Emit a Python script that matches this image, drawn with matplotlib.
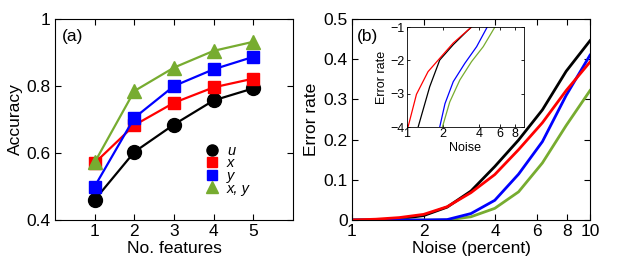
"""
Accuracy vs number of features, error rate vs noise
"""

import matplotlib
matplotlib.use('Agg')
from matplotlib import pyplot as plt
from matplotlib.lines import Line2D
from matplotlib.ticker import FixedLocator, NullLocator

plt.rcParams['font.family'] = ['Liberation Sans', 'DejaVu Sans']
plt.rcParams['xtick.direction'] = 'in'
plt.rcParams['ytick.direction'] = 'in'

# (a) accuracy
features = [1, 2, 3, 4, 5]
acc_u = [0.46, 0.603, 0.685, 0.757, 0.793]
acc_x = [0.57, 0.683, 0.75, 0.796, 0.822]
acc_y = [0.50, 0.705, 0.80, 0.85, 0.887]
acc_xy = [0.572, 0.785, 0.855, 0.905, 0.932]
legend_labels = ['u', 'x', 'y', 'x, y']

# (b) error rate vs noise
noise = [1, 1.26, 1.58, 2, 2.51, 3.16, 3.98, 5.01, 6.31, 7.94, 10]
err_u = [0, 0, 0.003, 0.011, 0.032, 0.072, 0.133, 0.199, 0.274, 0.37, 0.446]
err_x = [0, 0.002, 0.006, 0.014, 0.033, 0.068, 0.113, 0.175, 0.242, 0.322, 0.393]
err_y = [0, 0, 0, 0, 0.001, 0.016, 0.049, 0.114, 0.195, 0.31, 0.41]
err_xy = [0, 0, 0, 0, 0, 0.008, 0.029, 0.07, 0.142, 0.235, 0.322]

# inset: log10 error rate
in_noise_u = [1.24, 1.55, 1.88, 2.44, 3.17, 3.47]
in_log_u = [-4, -2.79, -1.99, -1.53, -1.13, -1.0]
in_noise_x = [1.02, 1.2, 1.5, 1.88, 2.44, 3.47]
in_log_x = [-4, -3.02, -2.34, -1.94, -1.48, -1.0]
in_noise_y = [1.88, 2.08, 2.44, 3.05, 3.83, 4.7]
in_log_y = [-4, -3.3, -2.64, -2.09, -1.59, -1.0]
in_noise_xy = [1.98, 2.28, 2.77, 3.47, 4.35, 5.45]
in_log_xy = [-4, -3.25, -2.59, -2.04, -1.59, -1.0]

green = '#77ac30'
fs = 12.5
W, H = 623, 263
fig = plt.figure(figsize=(W / 100, H / 100), dpi=100)

def style(ax, size=fs):
    ax.tick_params(top=True, right=True, labelsize=size, length=4, width=0.8, pad=3)
    for s in ax.spines.values():
        s.set_linewidth(0.8)

# (a)
ax1 = fig.add_axes([55 / W, 43 / H, 238 / W, 201 / H])
ax1.plot(features, acc_u, '-o', color='k', lw=1.6, ms=10)
ax1.plot(features, acc_x, '-s', color='r', lw=1.6, ms=8)
ax1.plot(features, acc_y, '-s', color='b', lw=1.6, ms=8)
ax1.plot(features, acc_xy, '-^', color=green, lw=1.6, ms=10)
ax1.set_xlim(0, 6)
ax1.set_ylim(0.4, 1)
ax1.set_xticks(features)
ax1.set_yticks([0.4, 0.6, 0.8, 1])
ax1.set_yticklabels(['0.4', '0.6', '0.8', '1'])
ax1.set_xlabel('No. features', fontsize=fs, labelpad=1)
ax1.set_ylabel('Accuracy', fontsize=fs, labelpad=3)
style(ax1)
ax1.text(0.03, 0.95, '(a)', transform=ax1.transAxes, fontsize=fs, va='top')
handles = [Line2D([], [], ls='none', marker='o', color='k', ms=8),
           Line2D([], [], ls='none', marker='s', color='r', ms=6.5),
           Line2D([], [], ls='none', marker='s', color='b', ms=6.5),
           Line2D([], [], ls='none', marker='^', color=green, ms=8.5)]
leg = ax1.legend(handles, legend_labels, frameon=False,
                 prop={'family': 'Liberation Sans', 'style': 'italic', 'size': 10.5},
                 loc='upper left', bbox_to_anchor=(0.6, 0.415), handlelength=0.9,
                 handletextpad=0.6, labelspacing=-0.1, borderpad=0)

# (b)
ax2 = fig.add_axes([352 / W, 43 / H, 238 / W, 201 / H])
ax2.plot(noise, err_u, color='k', lw=2)
ax2.plot(noise, err_xy, color=green, lw=2)
ax2.plot(noise, err_y, color='b', lw=2)
ax2.plot(noise, err_x, color='r', lw=2)
ax2.set_xscale('log')
ax2.set_xlim(1, 10)
ax2.set_ylim(0, 0.5)
ax2.xaxis.set_major_locator(FixedLocator([1, 2, 4, 6, 8, 10]))
ax2.xaxis.set_minor_locator(NullLocator())
ax2.set_xticklabels(['1', '2', '4', '6', '8', '10'])
ax2.set_yticks([0, 0.1, 0.2, 0.3, 0.4, 0.5])
ax2.set_yticklabels(['0', '0.1', '0.2', '0.3', '0.4', '0.5'])
ax2.set_xlabel('Noise (percent)', fontsize=fs, labelpad=1)
ax2.set_ylabel('Error rate', fontsize=fs, labelpad=3)
style(ax2)
ax2.text(0.02, 0.95, '(b)', transform=ax2.transAxes, fontsize=fs, va='top')

# inset
ax3 = fig.add_axes([407 / W, 136 / H, 117 / W, 100 / H])
ax3.plot(in_noise_u, in_log_u, color='k', lw=0.9)
ax3.plot(in_noise_x, in_log_x, color='r', lw=0.9)
ax3.plot(in_noise_y, in_log_y, color='b', lw=0.9)
ax3.plot(in_noise_xy, in_log_xy, color=green, lw=0.9)
ax3.set_xscale('log')
ax3.set_xlim(1, 9.55)
ax3.set_ylim(-4, -1)
ax3.xaxis.set_major_locator(FixedLocator([1, 2, 4, 6, 8]))
ax3.xaxis.set_minor_locator(NullLocator())
ax3.set_xticklabels(['1', '2', '4', '6', '8'])
ax3.set_yticks([-4, -3, -2, -1])
ax3.set_yticklabels(['\u22124', '\u22123', '\u22122', '\u22121'])
ax3.set_xlabel('Noise', fontsize=9, labelpad=1)
ax3.set_ylabel('Error rate', fontsize=9, labelpad=2)
ax3.tick_params(top=True, right=True, labelsize=9, length=2.5, width=0.6, pad=1)
ax3.tick_params(axis='y', pad=1.5)
for s in ax3.spines.values():
    s.set_linewidth(0.6)

fig.savefig('out.png', dpi=100)
